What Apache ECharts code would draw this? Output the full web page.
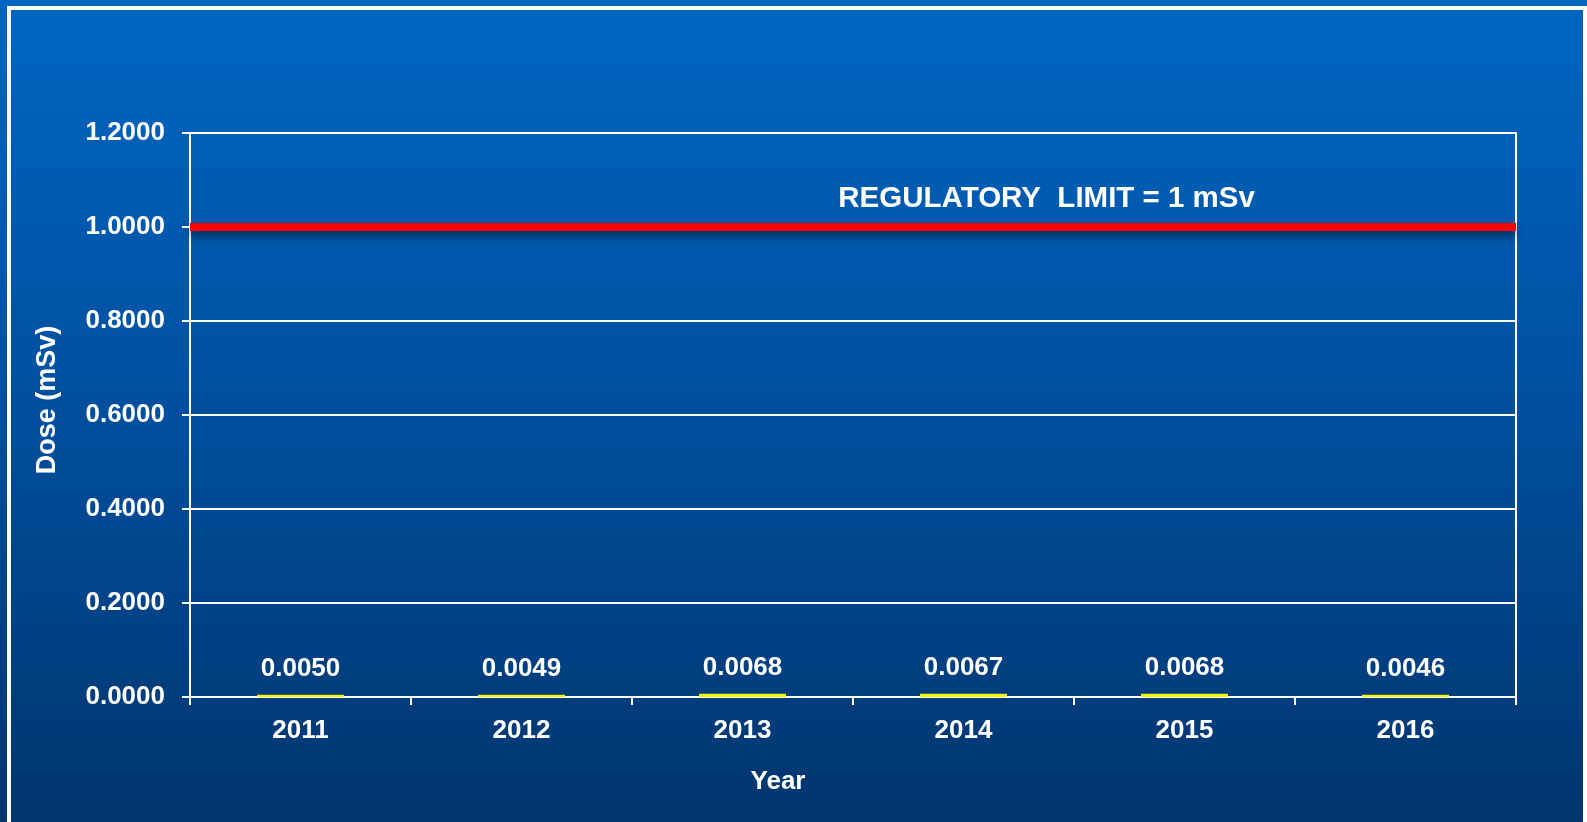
<!DOCTYPE html>
<html>
<head>
<meta charset="utf-8">
<script src="https://cdn.jsdelivr.net/npm/echarts@6/dist/echarts.min.js"></script>
<style>
html,body{margin:0;padding:0;background:#00356e;}
#chart{width:1587px;height:822px;}
</style>
</head>
<body>
<div id="chart"></div>
<script>
const years = ['2011', '2012', '2013', '2014', '2015', '2016'];
const doses = [0.0050, 0.0049, 0.0068, 0.0067, 0.0068, 0.0046];
const regulatoryLimit = 1;
const limitLabel = 'REGULATORY  LIMIT = 1 mSv';
const yTicks = { min: 0, max: 1.2, interval: 0.2 };

const FONT = '"Liberation Sans", Arial, sans-serif';
const chart = echarts.init(document.getElementById('chart'), null, { renderer: 'canvas' });

const option = {
  animation: false,
  backgroundColor: {
    type: 'linear', x: 0, y: 0, x2: 0, y2: 1,
    colorStops: [
      { offset: 0, color: '#0066c3' },
      { offset: 0.5, color: '#004f9e' },
      { offset: 1, color: '#00356e' }
    ]
  },
  textStyle: { fontFamily: FONT },
  grid: {
    left: 190, right: 71, top: 133, bottom: 125,
    show: true, borderColor: '#ffffff', borderWidth: 2, backgroundColor: 'transparent'
  },
  xAxis: {
    type: 'category',
    data: years,
    name: 'Year',
    nameLocation: 'middle',
    nameGap: 72,
    nameTextStyle: { color: '#ffffff', fontSize: 26, fontWeight: 'bold', fontFamily: FONT, padding: [0, 150, 0, 0] },
    axisLine: { show: true, lineStyle: { color: '#ffffff', width: 2 } },
    axisTick: { show: true, length: 8, lineStyle: { color: '#ffffff', width: 2 } },
    axisLabel: { color: '#ffffff', fontSize: 26, fontWeight: 'bold', fontFamily: FONT, margin: 21 },
    splitLine: { show: false }
  },
  yAxis: {
    type: 'value',
    min: yTicks.min, max: yTicks.max, interval: yTicks.interval,
    name: 'Dose (mSv)',
    nameLocation: 'middle',
    nameGap: 129,
    nameRotate: 90,
    nameTextStyle: { color: '#ffffff', fontSize: 27, fontWeight: 'bold', fontFamily: FONT, padding: [0, 0, 0, 30] },
    axisLine: { show: true, lineStyle: { color: '#ffffff', width: 2 } },
    axisTick: { show: true, length: 8, lineStyle: { color: '#ffffff', width: 2 } },
    axisLabel: {
      color: '#ffffff', fontSize: 26, fontWeight: 'bold', fontFamily: FONT, margin: 25,
      formatter: v => v.toFixed(4)
    },
    splitLine: { show: true, lineStyle: { color: '#ffffff', width: 2 } }
  },
  series: [{
    type: 'bar',
    data: doses,
    barWidth: 87,
    itemStyle: { color: '#f4f400' },
    label: {
      show: true, position: 'top', distance: 13,
      color: '#ffffff', fontSize: 26, fontWeight: 'bold', fontFamily: FONT,
      formatter: p => p.value.toFixed(4)
    },
    markLine: {
      silent: true,
      symbol: 'none',
      data: [{ yAxis: regulatoryLimit }],
      lineStyle: {
        color: '#ff0000', width: 8, type: 'solid',
        shadowColor: 'rgba(0,0,0,0.55)', shadowBlur: 8, shadowOffsetY: 5
      },
      label: { show: false }
    },
    z: 3
  }],
  graphic: []
};

chart.setOption(option);

const limitY = chart.convertToPixel({ yAxisIndex: 0 }, regulatoryLimit);
const g = chart.getModel().getComponent('grid').coordinateSystem.getRect();
chart.setOption({
  graphic: [
    {
      type: 'rect',
      shape: { x: 9, y: 8, width: 1576, height: 900 },
      style: { fill: 'none', stroke: '#ffffff', lineWidth: 4 },
      silent: true, z: 10
    },
    {
      type: 'text',
      x: g.x + g.width * 0.646,
      y: limitY - 28,
      style: {
        text: limitLabel,
        fill: '#ffffff',
        font: 'bold 29.5px ' + FONT,
        textAlign: 'center',
        textVerticalAlign: 'middle'
      },
      silent: true, z: 10
    }
  ]
});
</script>
</body>
</html>
